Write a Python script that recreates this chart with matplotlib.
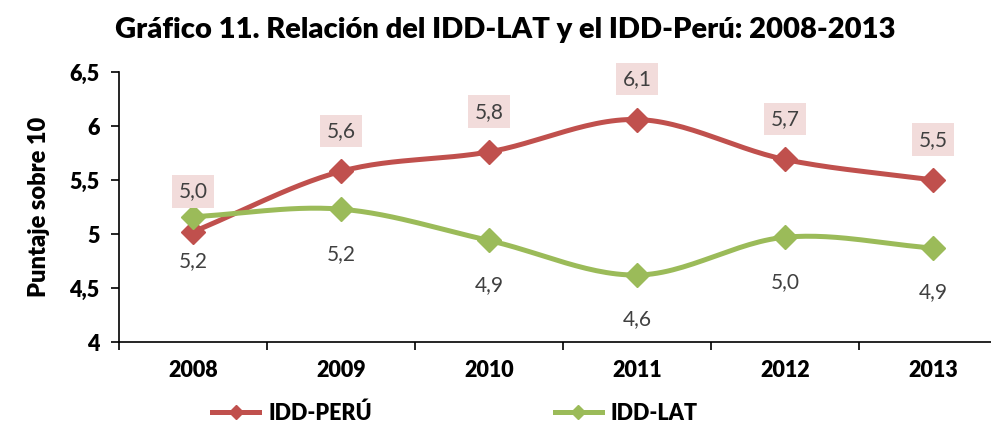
import numpy as np
import matplotlib.pyplot as plt

years = ['2008', '2009', '2010', '2011', '2012', '2013']
idd_peru = [5.02, 5.58, 5.76, 6.06, 5.69, 5.50]
idd_lat = [5.16, 5.23, 4.94, 4.62, 4.97, 4.87]

RED = '#C0504D'
GREEN = '#9BBB59'
GRAY = '#404040'

plt.rcParams['font.family'] = ['Lato', 'DejaVu Sans']


def smooth(x, y, n=30):
    # catmull-rom curve through the points (like Excel's smoothed line)
    x = np.asarray(x, float)
    y = np.asarray(y, float)
    px = np.concatenate([[2 * x[0] - x[1]], x, [2 * x[-1] - x[-2]]])
    py = np.concatenate([[2 * y[0] - y[1]], y, [2 * y[-1] - y[-2]]])
    xs, ys = [], []
    t = np.linspace(0, 1, n)
    for i in range(1, len(px) - 2):
        for p, out in ((px, xs), (py, ys)):
            p0, p1, p2, p3 = p[i - 1], p[i], p[i + 1], p[i + 2]
            out.extend(0.5 * ((2 * p1) + (-p0 + p2) * t
                              + (2 * p0 - 5 * p1 + 4 * p2 - p3) * t ** 2
                              + (-p0 + 3 * p1 - 3 * p2 + p3) * t ** 3))
    return xs, ys


def lbl(v):
    return format(v, '.1f').replace('.', ',')


fig = plt.figure(figsize=(9.91, 4.23), dpi=100)
ax = fig.add_axes([119 / 991, 1 - 342 / 423, 888 / 991, 270 / 423])
x = np.arange(len(years))

for vals, col, name in ((idd_peru, RED, 'IDD-PERÚ'), (idd_lat, GREEN, 'IDD-LAT')):
    sx, sy = smooth(x, vals)
    ax.plot(sx, sy, color=col, lw=3.6, solid_capstyle='round', zorder=2)
    ax.plot(x, vals, ls='none', marker='D', ms=12, color=col, zorder=3)
    # proxy for the legend
    ax.plot([], [], color=col, lw=3.6, marker='D', ms=7, label=name)

for xi, v in zip(x, idd_peru):
    ax.annotate(lbl(v), (xi, v), xytext=(0, 29), textcoords='offset points',
                ha='center', va='center', fontsize=15, color=GRAY,
                bbox=dict(boxstyle='square,pad=0.3', fc='#F2DCDB', ec='none'))
for xi, v in zip(x, idd_lat):
    ax.annotate(lbl(v), (xi, v), xytext=(0, -32), textcoords='offset points',
                ha='center', va='center', fontsize=15, color=GRAY)

ax.set_xlim(-0.5, 5.5)
ax.set_ylim(4, 6.5)
ax.set_yticks([4, 4.5, 5, 5.5, 6, 6.5])
ax.set_yticklabels(['4', '4,5', '5', '5,5', '6', '6,5'])
ax.set_xticks(x)
ax.set_xticklabels(years)
ax.set_xticks(np.arange(-0.5, 6, 1), minor=True)
ax.tick_params(axis='x', which='major', length=0, pad=13)
ax.tick_params(axis='x', which='minor', length=6, width=1.2, direction='out')
ax.tick_params(axis='y', length=6, width=1.2, direction='out', pad=8)
for t in ax.get_xticklabels() + ax.get_yticklabels():
    t.set_fontweight('heavy')
    t.set_fontsize(15.5)
ax.spines['top'].set_visible(False)
ax.spines['right'].set_visible(False)
for s in ('left', 'bottom'):
    ax.spines[s].set_linewidth(1.2)

ax.set_ylabel('Puntaje sobre 10', fontsize=17, fontweight='heavy', labelpad=14)

fig.suptitle('Gráfico 11. Relación del IDD-LAT y el IDD-Perú: 2008-2013',
             x=505 / 991, y=1 - 30 / 423, va='center', fontsize=21, fontweight='heavy')

fig.legend(loc='center', bbox_to_anchor=(455 / 991, 1 - 413 / 423), ncol=2,
           frameon=False, handlelength=2.2, handletextpad=0.4, columnspacing=8.5,
           prop={'weight': 'heavy', 'size': 15.5})

fig.savefig('out.png', dpi=100)
